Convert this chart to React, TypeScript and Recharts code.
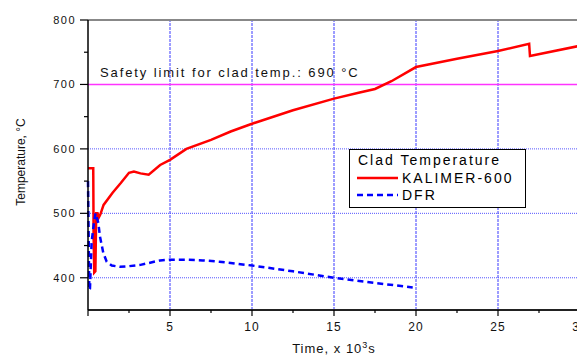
import { LineChart, Line, XAxis, YAxis, ReferenceLine, Legend } from "recharts";

const kalimerTime = [0, 0.32, 0.34, 0.38, 0.45, 0.5, 0.58, 0.65, 0.75, 0.95, 1.5, 2, 2.5, 2.8, 3.2, 3.7, 4.4, 5, 6, 7.5, 8.7, 10, 12.5, 15, 16.5, 17.5, 18.5, 20, 22.5, 25, 26.9, 26.95, 30];
const kalimerTemp = [570, 570, 470, 408, 410, 500, 500, 493, 498, 513, 532, 547, 563, 565, 562, 560, 575, 583, 600, 614, 627, 639, 660, 678, 687, 693, 705, 727, 740, 752, 763, 744, 760];

const dfrTime = [0, 0.08, 0.12, 0.22, 0.36, 0.46, 0.63, 0.73, 0.93, 1.14, 1.45, 1.95, 2.5, 3.2, 4.4, 5, 6, 7, 8, 10, 12.5, 15, 17.5, 19.8];
const dfrTemp = [550, 381, 383, 455, 485, 500, 485, 464, 439, 425, 419, 417, 418, 420, 427, 428, 428, 427, 425, 419, 410, 400, 392, 385];

const xTicks = [0, 2.5, 5, 7.5, 10, 12.5, 15, 17.5, 20, 22.5, 25, 27.5, 30];
const yTicks = [400, 450, 500, 550, 600, 650, 700, 750, 800];
const gridX = [5, 10, 15, 20, 25];
const gridY = [400, 500, 600];
const safetyLimit = 700;

const kalimer = kalimerTime.map((t, i) => ({ t, v: kalimerTemp[i] }));
const dfr = dfrTime.map((t, i) => ({ t, v: dfrTemp[i] }));

const FONT = "'Liberation Sans', Arial, sans-serif";

const XTick = (props: any) => {
  const { x, y, payload } = props;
  const axisY = y - 8;
  const major = payload.value % 5 === 0;
  return (
    <g>
      <line x1={x} y1={axisY} x2={x} y2={axisY + (major ? 6 : 3)} stroke="#000" strokeWidth={1.2} />
      {major && payload.value > 0 && (
        <text x={x} y={axisY + 21} textAnchor="middle" fontSize={12} letterSpacing={1} fill="#111" fontFamily={FONT}>
          {payload.value}
        </text>
      )}
    </g>
  );
};

const YTick = (props: any) => {
  const { x, y, payload } = props;
  const axisX = x + 8;
  const major = payload.value % 100 === 0;
  return (
    <g>
      <line x1={axisX} y1={y} x2={axisX - (major ? 8 : 4)} y2={y} stroke="#000" strokeWidth={1.2} />
      {major && (
        <text x={axisX - 12} y={y + 4} textAnchor="end" fontSize={11} letterSpacing={1.5} fill="#111" fontFamily={FONT}>
          {payload.value}
        </text>
      )}
    </g>
  );
};

const LegendBox = () => (
  <svg width={177} height={59}>
    <rect x={0.5} y={0.5} width={176} height={58} fill="#fff" stroke="#000" strokeWidth={1} />
    <text x={9} y={16} fontSize={14} letterSpacing={2} fontFamily={FONT} fill="#000">Clad Temperature</text>
    <line x1={8} y1={29} x2={49} y2={29} stroke="#ff0000" strokeWidth={2.5} />
    <text x={53} y={34} fontSize={14} letterSpacing={2} fontFamily={FONT} fill="#000">KALIMER-600</text>
    <line x1={8} y1={46} x2={49} y2={46} stroke="#0000ff" strokeWidth={2.5} strokeDasharray="6 4" />
    <text x={53} y={51} fontSize={14} letterSpacing={2} fontFamily={FONT} fill="#000">DFR</text>
  </svg>
);

export default function App() {
  return (
    <div style={{ position: "absolute", left: 0, top: 0, width: 577, height: 356, overflow: "hidden", background: "#fff" }}>
      <LineChart width={600} height={356} margin={{ top: 20, right: 20, bottom: 0, left: 0 }}>
        {gridX.map((v) => (
          <ReferenceLine key={`gx-${v}`} x={v} stroke="#3a3aff" strokeWidth={1} strokeDasharray="3 1" />
        ))}
        {gridY.map((v) => (
          <ReferenceLine key={`gy-${v}`} y={v} stroke="#5555ff" strokeWidth={1} strokeDasharray="1 1" />
        ))}
        <ReferenceLine
          y={safetyLimit}
          stroke="#ff33ff"
          strokeWidth={1.5}
          label={(p: any) => (
            <text x={p.viewBox.x + 12} y={p.viewBox.y - 7} fontSize={13} letterSpacing={1.9} fontFamily={FONT} fill="#111">
              Safety limit for clad temp.: 690 °C
            </text>
          )}
        />
        <ReferenceLine y={800} stroke="#888" strokeWidth={2} />
        <XAxis
          type="number"
          dataKey="t"
          domain={[0, 30]}
          ticks={xTicks}
          interval={0}
          height={46}
          tickSize={6}
          tickMargin={2}
          tickLine={false}
          tick={<XTick />}
          axisLine={{ stroke: "#222", strokeWidth: 2 }}
          allowDuplicatedCategory
          label={(p: any) => (
            <text x={p.viewBox.x + p.viewBox.width / 2} y={353} textAnchor="middle" fontSize={13} letterSpacing={1} fontFamily={FONT} fill="#111">
              Time, x 10<tspan dy={-5} fontSize={9}>3</tspan><tspan dy={5}>s</tspan>
            </text>
          )}
        />
        <YAxis
          type="number"
          domain={[350, 800]}
          ticks={yTicks}
          interval={0}
          width={88}
          tickSize={6}
          tickMargin={2}
          tickLine={false}
          tick={<YTick />}
          axisLine={{ stroke: "#000", strokeWidth: 1.5 }}
          label={(p: any) => (
            <text x={25} y={p.viewBox.y + p.viewBox.height / 2 - 3} transform={`rotate(-90 25 ${p.viewBox.y + p.viewBox.height / 2 - 3})`} textAnchor="middle" fontSize={12} fontFamily={FONT} fill="#111">
              Temperature, °C
            </text>
          )}
        />
        <Line data={kalimer} dataKey="v" type="linear" stroke="#ff0000" strokeWidth={2.5} dot={false} isAnimationActive={false} />
        <Line data={dfr} dataKey="v" type="linear" stroke="#0000ff" strokeWidth={2.5} strokeDasharray="6 4" dot={false} isAnimationActive={false} />
        <Legend
          layout="horizontal"
          verticalAlign="middle"
          align="center"
          content={() => <LegendBox />}
          wrapperStyle={{ left: 349, top: 149, width: 177, height: 59 }}
        />
      </LineChart>
    </div>
  );
}
